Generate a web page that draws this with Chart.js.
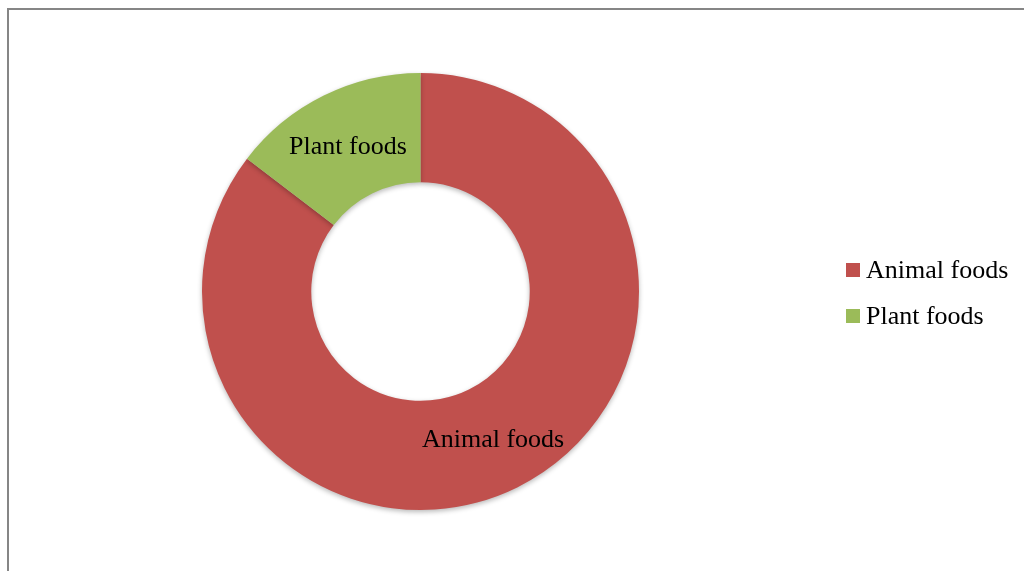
<!DOCTYPE html>
<html>
<head>
<meta charset="utf-8">
<script src="https://cdn.jsdelivr.net/npm/chart.js@4/dist/chart.umd.min.js"></script>
<style>
  html, body { margin: 0; padding: 0; background: #fff; overflow: hidden; }
  #frame {
    position: absolute; left: 7px; top: 8px; width: 1100px; height: 700px;
    border-top: 2px solid #868686; border-left: 2px solid #868686;
  }
  #wrap { position: absolute; left: 0; top: 0; width: 1024px; height: 571px; }
</style>
</head>
<body>
<div id="frame"></div>
<div id="wrap"><canvas id="foodChart" width="1024" height="571"></canvas></div>
<script>
// Share of intake by food source
const categories = ['Animal foods', 'Plant foods'];
const shares = [85.4, 14.6];
const sliceColors = ['#C0504D', '#9BBB59'];

const serif = '"Liberation Serif", "Times New Roman", serif';

// soft drop shadow under the ring
const ringShadow = {
  id: 'ringShadow',
  beforeDatasetsDraw(chart) {
    const c = chart.ctx;
    c.save();
    c.shadowColor = 'rgba(0,0,0,0.28)';
    c.shadowBlur = 5;
    c.shadowOffsetY = 2;
  },
  afterDatasetsDraw(chart) {
    chart.ctx.restore();
  }
};

// category name in the middle of each slice
const sliceLabels = {
  id: 'sliceLabels',
  afterDatasetsDraw(chart) {
    const c = chart.ctx;
    const meta = chart.getDatasetMeta(0);
    c.save();
    c.font = '26px ' + serif;
    c.fillStyle = '#000';
    c.textAlign = 'center';
    c.textBaseline = 'alphabetic';
    meta.data.forEach((arc, i) => {
      const p = arc.getCenterPoint();
      c.fillText(chart.data.labels[i], p.x, p.y + 9);
    });
    c.restore();
  }
};

// legend to the right of the ring
const sideLegend = {
  id: 'sideLegend',
  afterDraw(chart) {
    const c = chart.ctx;
    const ds = chart.data.datasets[0];
    c.save();
    c.font = '26px ' + serif;
    c.textBaseline = 'alphabetic';
    c.textAlign = 'left';
    chart.data.labels.forEach((lab, i) => {
      const y = 263 + i * 46;
      c.fillStyle = ds.backgroundColor[i];
      c.fillRect(846, y, 14, 14);
      c.fillStyle = '#000';
      c.fillText(lab, 866, y + 15);
    });
    c.restore();
  }
};

new Chart(document.getElementById('foodChart'), {
  type: 'doughnut',
  data: {
    labels: categories,
    datasets: [{
      data: shares,
      backgroundColor: sliceColors,
      borderWidth: 0,
      hoverOffset: 0
    }]
  },
  options: {
    responsive: false,
    animation: false,
    cutout: '50%',
    layout: { padding: { left: 202, right: 385, top: 73, bottom: 61 } },
    plugins: {
      legend: { display: false },
      tooltip: { enabled: false }
    }
  },
  plugins: [ringShadow, sliceLabels, sideLegend]
});
</script>
</body>
</html>
